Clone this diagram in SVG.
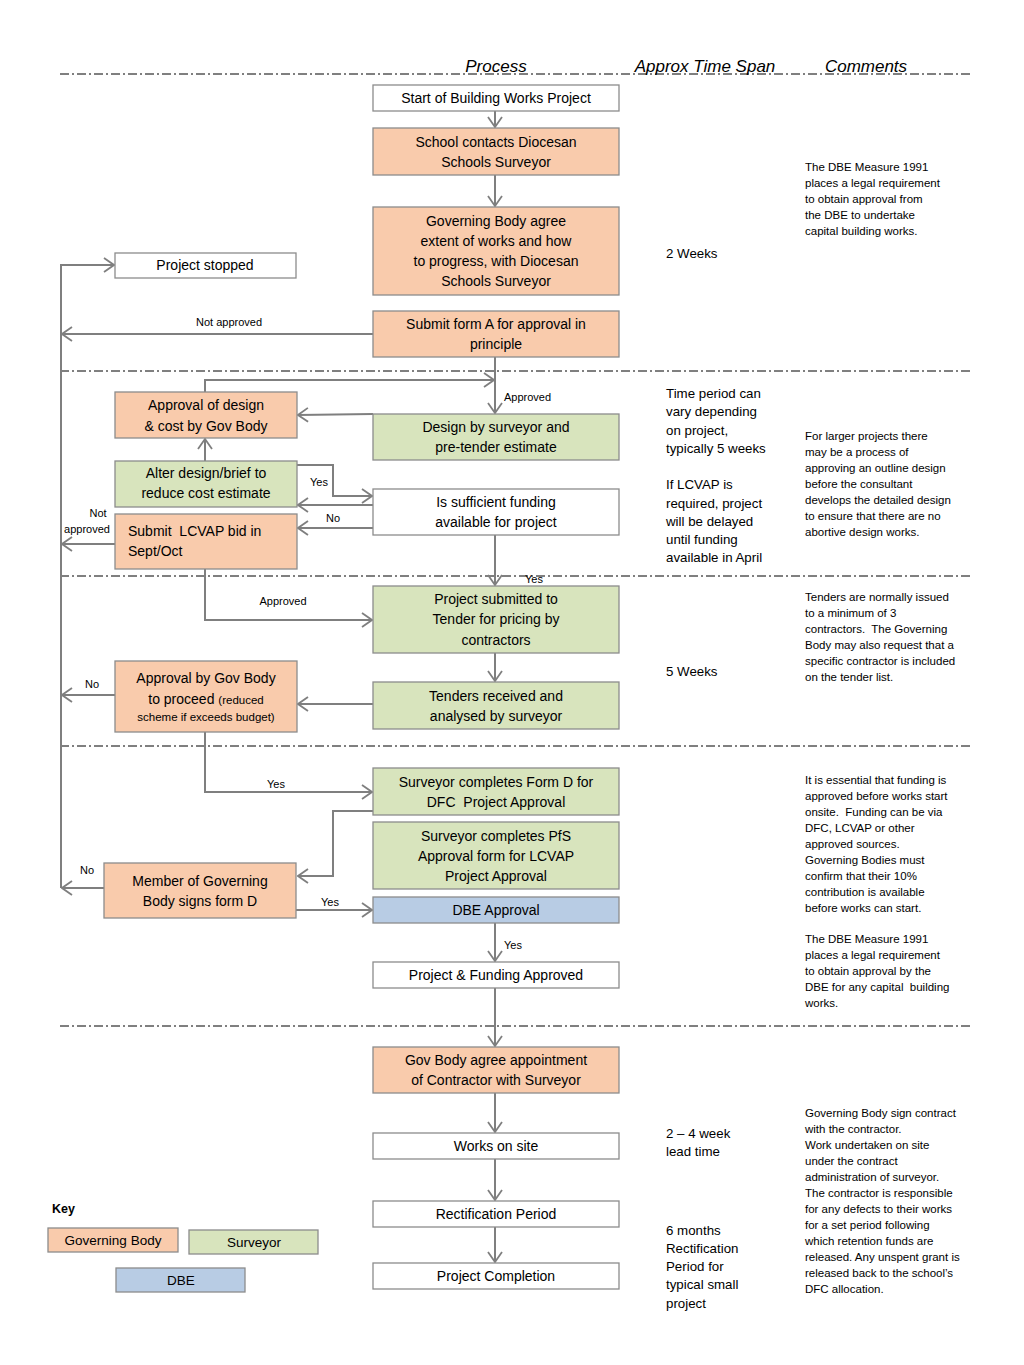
<svg xmlns="http://www.w3.org/2000/svg" width="1024" height="1365" viewBox="0 0 1024 1365">
<style>
.n{stroke:#8c8c8c;stroke-width:1.3}
.gb{fill:#f9cbac}
.sv{fill:#d8e4bd}
.db{fill:#b8cce4}
.wh{fill:#ffffff}
text{font-family:"Liberation Sans",Arial,sans-serif;fill:#000}
.t{font-size:14px;text-anchor:middle}
.tl{font-size:14px;text-anchor:start}
.ts{font-size:11.5px;text-anchor:middle}
.tk{font-size:13.5px;text-anchor:middle}
.lb{font-size:11px}
.tm{font-size:13.3px}
.cm{font-size:11.5px}
.hd{font-size:17px;font-style:italic;text-anchor:middle}
.c{fill:none;stroke:#7f7f7f;stroke-width:2}
.sep{stroke:#000;stroke-width:1;stroke-dasharray:9 3 2 3}
</style>
<defs>
<marker id="ah" viewBox="0 0 12 16" refX="11" refY="8" markerWidth="12" markerHeight="16" markerUnits="userSpaceOnUse" orient="auto">
<path d="M1,1 L11,8 L1,15" fill="none" stroke="#7f7f7f" stroke-width="1.8"/>
</marker>
</defs>
<rect width="1024" height="1365" fill="#ffffff"/>
<g id="separators">
<line class="sep" x1="60" y1="74" x2="972" y2="74"/>
<line class="sep" x1="60" y1="371" x2="972" y2="371"/>
<line class="sep" x1="60" y1="576" x2="972" y2="576"/>
<line class="sep" x1="60" y1="746" x2="972" y2="746"/>
<line class="sep" x1="60" y1="1026" x2="972" y2="1026"/>
</g>
<g id="headers">
<text class="hd" x="496" y="72">Process</text>
<text class="hd" x="705" y="72">Approx Time Span</text>
<text class="hd" x="866" y="72">Comments</text>
</g>
<g id="connectors">
<path class="c" d="M495,111 V127" marker-end="url(#ah)"/>
<path class="c" d="M495,175 V206" marker-end="url(#ah)"/>
<path class="c" d="M61,888 V265 H114" marker-end="url(#ah)"/>
<path class="c" d="M373,334 H62" marker-end="url(#ah)"/>
<path class="c" d="M495,357 V413" marker-end="url(#ah)"/>
<path class="c" d="M205,392 V380 H494" marker-end="url(#ah)"/>
<path class="c" d="M373,414 L298,415" marker-end="url(#ah)"/>
<path class="c" d="M205,461 V439" marker-end="url(#ah)"/>
<path class="c" d="M297,465 H333 V496 H372" marker-end="url(#ah)"/>
<path class="c" d="M373,505 H298" marker-end="url(#ah)"/>
<path class="c" d="M373,528 H298" marker-end="url(#ah)"/>
<path class="c" d="M115,544 H62" marker-end="url(#ah)"/>
<path class="c" d="M495,535 V585" marker-end="url(#ah)"/>
<path class="c" d="M205,569 V620 H372" marker-end="url(#ah)"/>
<path class="c" d="M495,653 V681" marker-end="url(#ah)"/>
<path class="c" d="M373,704 H298" marker-end="url(#ah)"/>
<path class="c" d="M115,695 H62" marker-end="url(#ah)"/>
<path class="c" d="M205,732 V792 H372" marker-end="url(#ah)"/>
<path class="c" d="M373,811 H333 V876 H298" marker-end="url(#ah)"/>
<path class="c" d="M104,888 H62" marker-end="url(#ah)"/>
<path class="c" d="M296,910 H372" marker-end="url(#ah)"/>
<path class="c" d="M495,923 V961" marker-end="url(#ah)"/>
<path class="c" d="M495,988 V1046" marker-end="url(#ah)"/>
<path class="c" d="M495,1093 V1132" marker-end="url(#ah)"/>
<path class="c" d="M495,1159 V1200" marker-end="url(#ah)"/>
<path class="c" d="M495,1227 V1262" marker-end="url(#ah)"/>
<text class="lb" x="229" y="326" text-anchor="middle">Not approved</text>
<text class="lb" x="504" y="401">Approved</text>
<text class="lb" x="319" y="486" text-anchor="middle">Yes</text>
<text class="lb" x="333" y="522" text-anchor="middle">No</text>
<text class="lb" x="98" y="517" text-anchor="middle">Not</text>
<text class="lb" x="87" y="533" text-anchor="middle">approved</text>
<text class="lb" x="534" y="583" text-anchor="middle">Yes</text>
<text class="lb" x="283" y="605" text-anchor="middle">Approved</text>
<text class="lb" x="92" y="688" text-anchor="middle">No</text>
<text class="lb" x="276" y="788" text-anchor="middle">Yes</text>
<text class="lb" x="87" y="874" text-anchor="middle">No</text>
<text class="lb" x="330" y="906" text-anchor="middle">Yes</text>
<text class="lb" x="504" y="949">Yes</text>
</g>
<g id="n-start"><rect class="n wh" x="373" y="85" width="246" height="26"/><text class="t" x="496" y="103">Start of Building Works Project</text></g>
<g id="n-school"><rect class="n gb" x="373" y="128" width="246" height="47"/><text class="t" x="496" y="147">School contacts Diocesan</text><text class="t" x="496" y="167">Schools Surveyor</text></g>
<g id="n-gbagree"><rect class="n gb" x="373" y="207" width="246" height="88"/><text class="t" x="496" y="226">Governing Body agree</text><text class="t" x="496" y="246">extent of works and how</text><text class="t" x="496" y="266">to progress, with Diocesan</text><text class="t" x="496" y="286">Schools  Surveyor</text></g>
<g id="n-stopped"><rect class="n wh" x="115" y="253" width="181" height="25"/><text class="t" x="205" y="270">Project stopped</text></g>
<g id="n-forma"><rect class="n gb" x="373" y="311" width="246" height="46"/><text class="t" x="496" y="329">Submit form A for approval in</text><text class="t" x="496" y="349">principle</text></g>
<g id="n-approvaldesign"><rect class="n gb" x="115" y="392" width="182" height="46"/><text class="t" x="206" y="410">Approval of design</text><text class="t" x="206" y="431">&amp; cost by Gov Body</text></g>
<g id="n-design"><rect class="n sv" x="373" y="414" width="246" height="46"/><text class="t" x="496" y="432">Design by surveyor and</text><text class="t" x="496" y="452">pre-tender estimate</text></g>
<g id="n-alter"><rect class="n sv" x="115" y="461" width="182" height="46"/><text class="t" x="206" y="478">Alter design/brief to</text><text class="t" x="206" y="498">reduce cost estimate</text></g>
<g id="n-funding"><rect class="n wh" x="373" y="489" width="246" height="46"/><text class="t" x="496" y="507">Is sufficient funding</text><text class="t" x="496" y="527">available for project</text></g>
<g id="n-lcvap"><rect class="n gb" x="115" y="514" width="182" height="55"/><text class="tl" x="128" y="536" xml:space="preserve">Submit  LCVAP bid in</text><text class="tl" x="128" y="556">Sept/Oct</text></g>
<g id="n-tender"><rect class="n sv" x="373" y="586" width="246" height="67"/><text class="t" x="496" y="604">Project submitted to</text><text class="t" x="496" y="624">Tender for pricing by</text><text class="t" x="496" y="645">contractors</text></g>
<g id="n-approvalgb"><rect class="n gb" x="115" y="661" width="182" height="71"/><text class="t" x="206" y="683">Approval by Gov Body</text><text class="t" x="206" y="704">to proceed <tspan font-size="11.5px">(reduced</tspan></text><text class="ts" x="206" y="721">scheme if exceeds budget)</text></g>
<g id="n-received"><rect class="n sv" x="373" y="682" width="246" height="47"/><text class="t" x="496" y="701">Tenders received and</text><text class="t" x="496" y="721">analysed by surveyor</text></g>
<g id="n-formd"><rect class="n sv" x="373" y="768" width="246" height="47"/><text class="t" x="496" y="787">Surveyor completes Form D for</text><text class="t" x="496" y="807" xml:space="preserve">DFC  Project Approval</text></g>
<g id="n-pfs"><rect class="n sv" x="373" y="822" width="246" height="67"/><text class="t" x="496" y="841">Surveyor completes PfS</text><text class="t" x="496" y="861">Approval form for LCVAP</text><text class="t" x="496" y="881">Project Approval</text></g>
<g id="n-member"><rect class="n gb" x="104" y="863" width="192" height="55"/><text class="t" x="200" y="886">Member of Governing</text><text class="t" x="200" y="906">Body signs form D</text></g>
<g id="n-dbe"><rect class="n db" x="373" y="897" width="246" height="26"/><text class="t" x="496" y="915">DBE Approval</text></g>
<g id="n-approved"><rect class="n wh" x="373" y="962" width="246" height="26"/><text class="t" x="496" y="980">Project &amp; Funding Approved</text></g>
<g id="n-contractor"><rect class="n gb" x="373" y="1047" width="246" height="46"/><text class="t" x="496" y="1065">Gov Body agree appointment</text><text class="t" x="496" y="1085">of Contractor with Surveyor</text></g>
<g id="n-works"><rect class="n wh" x="373" y="1133" width="246" height="26"/><text class="t" x="496" y="1151">Works on site</text></g>
<g id="n-rect"><rect class="n wh" x="373" y="1201" width="246" height="26"/><text class="t" x="496" y="1219">Rectification Period</text></g>
<g id="n-complete"><rect class="n wh" x="373" y="1263" width="246" height="26"/><text class="t" x="496" y="1281">Project Completion</text></g>
<g id="timespan">
<text class="tm" x="666" y="258">2 Weeks</text>
<text class="tm" x="666" y="398">Time period can</text>
<text class="tm" x="666" y="416">vary depending</text>
<text class="tm" x="666" y="435">on project,</text>
<text class="tm" x="666" y="453">typically 5 weeks</text>
<text class="tm" x="666" y="489">If LCVAP is</text>
<text class="tm" x="666" y="508">required, project</text>
<text class="tm" x="666" y="526">will be delayed</text>
<text class="tm" x="666" y="544">until funding</text>
<text class="tm" x="666" y="562">available in April</text>
<text class="tm" x="666" y="676">5 Weeks</text>
<text class="tm" x="666" y="1138">2 – 4 week</text>
<text class="tm" x="666" y="1156">lead time</text>
<text class="tm" x="666" y="1235">6 months</text>
<text class="tm" x="666" y="1253">Rectification</text>
<text class="tm" x="666" y="1271">Period for</text>
<text class="tm" x="666" y="1289">typical small</text>
<text class="tm" x="666" y="1308">project</text>
</g>
<g id="comments">
<text class="cm" x="805" y="171">The DBE Measure 1991</text>
<text class="cm" x="805" y="187">places a legal requirement</text>
<text class="cm" x="805" y="203">to obtain approval from</text>
<text class="cm" x="805" y="219">the DBE to undertake</text>
<text class="cm" x="805" y="235">capital building works.</text>
<text class="cm" x="805" y="440">For larger projects there</text>
<text class="cm" x="805" y="456">may be a process of</text>
<text class="cm" x="805" y="472">approving an outline design</text>
<text class="cm" x="805" y="488">before the consultant</text>
<text class="cm" x="805" y="504">develops the detailed design</text>
<text class="cm" x="805" y="520">to ensure that there are no</text>
<text class="cm" x="805" y="536">abortive design works.</text>
<text class="cm" x="805" y="601">Tenders are normally issued</text>
<text class="cm" x="805" y="617">to a minimum of 3</text>
<text class="cm" x="805" y="633" xml:space="preserve">contractors.  The Governing</text>
<text class="cm" x="805" y="649">Body may also request that a</text>
<text class="cm" x="805" y="665">specific contractor is included</text>
<text class="cm" x="805" y="681">on the tender list.</text>
<text class="cm" x="805" y="784">It is essential that funding is</text>
<text class="cm" x="805" y="800">approved before works start</text>
<text class="cm" x="805" y="816" xml:space="preserve">onsite.  Funding can be via</text>
<text class="cm" x="805" y="832">DFC, LCVAP or other</text>
<text class="cm" x="805" y="848">approved sources.</text>
<text class="cm" x="805" y="864">Governing Bodies must</text>
<text class="cm" x="805" y="880">confirm that their 10%</text>
<text class="cm" x="805" y="896">contribution is available</text>
<text class="cm" x="805" y="912">before works can start.</text>
<text class="cm" x="805" y="943">The DBE Measure 1991</text>
<text class="cm" x="805" y="959">places a legal requirement</text>
<text class="cm" x="805" y="975">to obtain approval by the</text>
<text class="cm" x="805" y="991" xml:space="preserve">DBE for any capital  building</text>
<text class="cm" x="805" y="1007">works.</text>
<text class="cm" x="805" y="1117">Governing Body sign contract</text>
<text class="cm" x="805" y="1133">with the contractor.</text>
<text class="cm" x="805" y="1149">Work undertaken on site</text>
<text class="cm" x="805" y="1165">under the contract</text>
<text class="cm" x="805" y="1181">administration of surveyor.</text>
<text class="cm" x="805" y="1197">The contractor is responsible</text>
<text class="cm" x="805" y="1213">for any defects to their works</text>
<text class="cm" x="805" y="1229">for a set period following</text>
<text class="cm" x="805" y="1245">which retention funds are</text>
<text class="cm" x="805" y="1261">released. Any unspent grant is</text>
<text class="cm" x="805" y="1277">released back to the school’s</text>
<text class="cm" x="805" y="1293">DFC allocation.</text>
</g>
<g id="key">
<text x="52" y="1213" font-size="12.5px" font-weight="bold">Key</text>
<rect class="n gb" x="48" y="1228" width="130" height="24"/><text class="tk" x="113" y="1245">Governing Body</text>
<rect class="n sv" x="189" y="1230" width="129" height="24"/><text class="tk" x="254" y="1247">Surveyor</text>
<rect class="n db" x="116" y="1268" width="129" height="24"/><text class="tk" x="181" y="1285">DBE</text>
</g>
</svg>
